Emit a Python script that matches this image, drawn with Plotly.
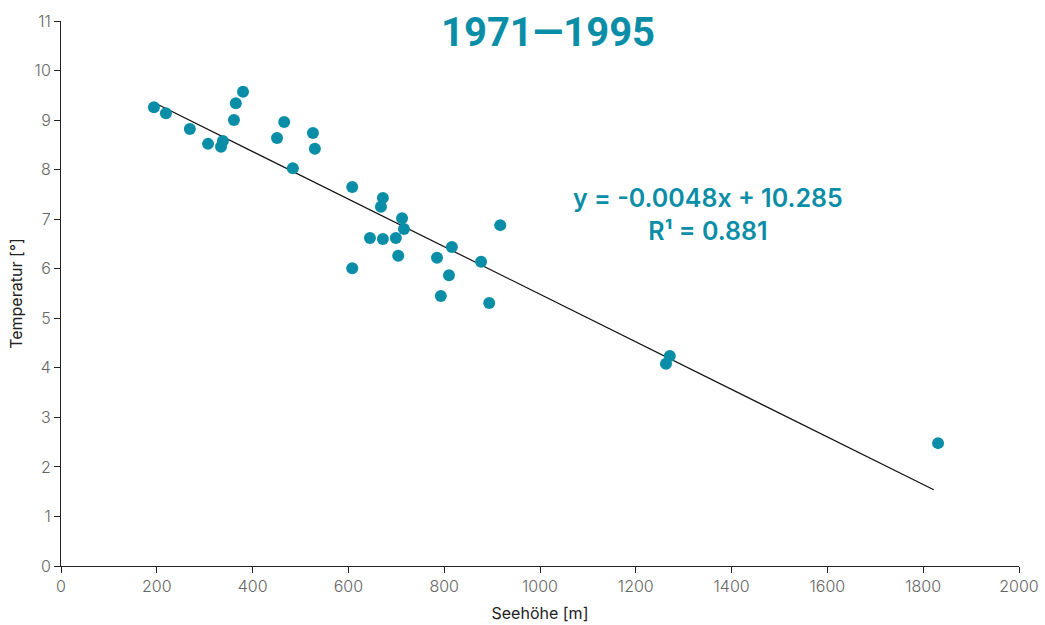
import plotly.graph_objects as go

# Data
seehoehe = [194, 219, 269, 307, 334, 338, 361, 365, 380, 451, 466, 526, 530, 484,
            608, 608, 645, 672, 668, 672, 699, 704, 712, 716, 785, 793, 810, 816,
            877, 894, 917, 1263, 1271, 1831]
temperatur = [9.26, 9.14, 8.82, 8.52, 8.46, 8.58, 9.00, 9.34, 9.57, 8.64, 8.96, 8.74, 8.42, 8.03,
              7.65, 6.01, 6.62, 7.43, 7.25, 6.60, 6.62, 6.26, 7.02, 6.80, 6.22, 5.45, 5.87, 6.44,
              6.14, 5.31, 6.88, 4.08, 4.24, 2.48]
slope = -0.0048
intercept = 10.285
r_value = 0.881
trend_x = [197, 1822]
trend_y = [slope * v + intercept for v in trend_x]

x_ticks = [0, 200, 400, 600, 800, 1000, 1200, 1400, 1600, 1800, 2000]
y_ticks = list(range(0, 12))

TEAL = "#0A8EA7"

fig = go.Figure()
fig.add_trace(go.Scatter(x=trend_x, y=trend_y, mode="lines",
                         line=dict(color="#111111", width=1.2), showlegend=False,
                         hoverinfo="skip"))
fig.add_trace(go.Scatter(x=seehoehe, y=temperatur, mode="markers",
                         marker=dict(color=TEAL, size=12, line=dict(width=0)),
                         showlegend=False))

fig.add_annotation(x=1351, y=7.1, xref="x", yref="y",
                   text=f"y = {slope}x + {intercept}<br>R¹ = {r_value}",
                   showarrow=False, align="center",
                   font=dict(family="Inter", size=25, color=TEAL, weight=600))

fig.add_annotation(x=0.508, y=1 - 11 / 545, xref="paper", yref="paper",
                   xanchor="center", yanchor="middle", showarrow=False,
                   text="1971—1995",
                   font=dict(family="Roboto", size=40, color=TEAL, weight=700))

fig.update_layout(
    width=1045, height=625,
    margin=dict(l=61, r=26, t=21, b=59),
    paper_bgcolor="white", plot_bgcolor="white",
    font=dict(family="Inter", color="#555555"),
)
fig.update_xaxes(range=[0, 2000], tickvals=x_ticks, showgrid=False, zeroline=False,
                 automargin=False,
                 showline=True, linecolor="#222222", linewidth=1,
                 ticks="outside", ticklen=6, tickcolor="#222222",
                 tickfont=dict(family="Inter", size=16, color="#666666", weight=300),
                 title=dict(text="Seehöhe [m]", font=dict(family="Inter", size=16, color="#222222"),
                            standoff=12))
fig.update_yaxes(range=[0, 11], tickvals=y_ticks, showgrid=False, zeroline=False,
                 automargin=False,
                 showline=True, linecolor="#222222", linewidth=1,
                 ticks="outside", ticklen=6, tickcolor="#222222",
                 tickfont=dict(family="Inter", size=16, color="#666666", weight=300),
                 title=dict(text="Temperatur [°]", font=dict(family="Inter", size=16, color="#222222"),
                            standoff=8))

fig.write_html("out.html")
